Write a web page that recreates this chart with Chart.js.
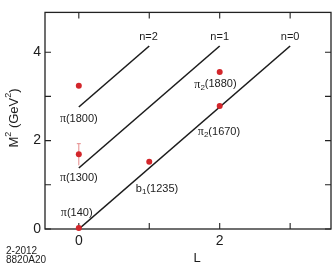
<!DOCTYPE html>
<html>
<head>
<meta charset="utf-8">
<script src="https://cdn.jsdelivr.net/npm/chart.js@4.4.1/dist/chart.umd.min.js"></script>
<style>
  body { margin: 0; background: #fff; }
  #box { width: 335px; height: 271px; }
</style>
</head>
<body>
<div id="box"><canvas id="regge" width="335" height="271"></canvas></div>
<script>
// mesons: orbital L and mass squared (GeV^2)
const mesonL = [0, 0, 0, 1, 2, 2];
const mesonM2 = [0.02, 1.69, 3.24, 1.52, 2.78, 3.55];

// error bar on pi(1300)
const errL = [0];
const errLow = [1.44];
const errHigh = [1.93];

// trajectories n=0,1,2 (start / end)
const trajNames = ['n=0', 'n=1', 'n=2'];
const trajStartL = [0, 0, 0];
const trajStartM2 = [0, 1.38, 2.76];
const trajEndL = [3, 2, 1];
const trajEndM2 = [4.14, 4.14, 4.14];

// point labels: [prefix, subscript, rest] and where they sit (data units)
const labelParts = [
  ['π', '', '(140)'],
  ['π', '', '(1300)'],
  ['π', '', '(1800)'],
  ['b', '1', '(1235)'],
  ['π', '2', '(1670)'],
  ['π', '2', '(1880)']
];
const labelL = [-0.03, 0, 0, 1.11, 1.99, 1.94];
const labelM2 = [0.37, 1.15, 2.50, 0.91, 2.20, 3.27];
const trajLabelL = [3.0, 2.0, 0.99];
const trajLabelM2 = [4.35, 4.35, 4.35];

// axes
const xTicks = [0, 1, 2, 3];
const xTickLabels = [0, 2];
const yTicks = [0, 1, 2, 3, 4];
const yTickLabels = [0, 2, 4];

const SANS = '"Liberation Sans", Arial, sans-serif';
const SERIF = '"Liberation Serif", "Times New Roman", serif';
const INK = '#1c1c1c';

function drawParts(ctx, parts, cx, cy) {
  let w = 0;
  parts.forEach(p => { ctx.font = p.font; p.w = ctx.measureText(p.t).width; w += p.w; });
  let x = cx - w / 2;
  ctx.textBaseline = 'middle';
  ctx.textAlign = 'left';
  parts.forEach(p => {
    ctx.font = p.font;
    ctx.fillText(p.t, x, cy + (p.dy || 0));
    x += p.w;
  });
}

function labelToParts(lp) {
  let parts = [];
  if (lp[0] == 'π') parts.push({ t: 'π', font: '12px ' + SERIF });
  else parts.push({ t: lp[0], font: '11px ' + SANS });
  if (lp[1] != '') parts.push({ t: lp[1], font: '8px ' + SANS, dy: 3 });
  parts.push({ t: lp[2], font: '11px ' + SANS });
  return parts;
}

const annotate = {
  id: 'annotate',
  beforeDatasetsDraw(chart) {
    const ctx = chart.ctx;
    const a = chart.chartArea;
    const xs = chart.scales.x, ys = chart.scales.y;
    ctx.save();
    // frame
    ctx.strokeStyle = '#222';
    ctx.lineWidth = 1.3;
    ctx.strokeRect(a.left, a.top, a.right - a.left, a.bottom - a.top);
    // inward ticks on all four sides
    ctx.lineWidth = 1.1;
    ctx.beginPath();
    xTicks.forEach(v => {
      const px = xs.getPixelForValue(v);
      ctx.moveTo(px, a.bottom); ctx.lineTo(px, a.bottom - 6);
      ctx.moveTo(px, a.top); ctx.lineTo(px, a.top + 6);
    });
    yTicks.forEach(v => {
      const py = ys.getPixelForValue(v);
      ctx.moveTo(a.left, py); ctx.lineTo(a.left + 6, py);
      ctx.moveTo(a.right, py); ctx.lineTo(a.right - 6, py);
    });
    ctx.stroke();
    // error bar
    ctx.strokeStyle = '#e58a8a';
    ctx.lineWidth = 1;
    ctx.beginPath();
    for (let i = 0; i < errL.length; i++) {
      const px = xs.getPixelForValue(errL[i]);
      const lo = ys.getPixelForValue(errLow[i]);
      const hi = ys.getPixelForValue(errHigh[i]);
      ctx.moveTo(px, lo); ctx.lineTo(px, hi);
      ctx.moveTo(px - 2, hi); ctx.lineTo(px + 2, hi);
    }
    ctx.stroke();
    ctx.restore();
  },
  afterDraw(chart) {
    const ctx = chart.ctx;
    const xs = chart.scales.x, ys = chart.scales.y;
    ctx.save();
    ctx.fillStyle = INK;
    for (let i = 0; i < labelParts.length; i++) {
      drawParts(ctx, labelToParts(labelParts[i]), xs.getPixelForValue(labelL[i]), ys.getPixelForValue(labelM2[i]));
    }
    for (let i = 0; i < trajNames.length; i++) {
      drawParts(ctx, [{ t: trajNames[i], font: '11px ' + SANS }], xs.getPixelForValue(trajLabelL[i]), ys.getPixelForValue(trajLabelM2[i]));
    }
    // axis titles
    drawParts(ctx, [{ t: 'L', font: '13px ' + SANS }], 197, 258);
    ctx.save();
    ctx.translate(14, 118);
    ctx.rotate(-Math.PI / 2);
    drawParts(ctx, [
      { t: 'M', font: '13px ' + SANS },
      { t: '2', font: '9px ' + SANS, dy: -5 },
      { t: ' (GeV', font: '13px ' + SANS },
      { t: '2', font: '9px ' + SANS, dy: -5 },
      { t: ')', font: '13px ' + SANS }
    ], 0, 0);
    ctx.restore();
    // figure id
    ctx.font = '10px ' + SANS;
    ctx.textAlign = 'left';
    ctx.textBaseline = 'middle';
    ctx.fillText('2-2012', 6, 251);
    ctx.fillText('8820A20', 6, 260);
    ctx.restore();
  }
};

let datasets = [];
datasets.push({
  label: 'mesons',
  data: mesonL.map((l, i) => ({ x: l, y: mesonM2[i] })),
  pointRadius: 3,
  pointBackgroundColor: '#d3262b',
  pointBorderWidth: 0,
  showLine: false,
  clip: false,
  order: 0
});
for (let i = 0; i < trajNames.length; i++) {
  datasets.push({
    label: trajNames[i],
    data: [{ x: trajStartL[i], y: trajStartM2[i] }, { x: trajEndL[i], y: trajEndM2[i] }],
    showLine: true,
    borderColor: INK,
    borderWidth: 1.6,
    pointRadius: 0,
    order: 1
  });
}

new Chart(document.getElementById('regge'), {
  type: 'scatter',
  data: { datasets: datasets },
  options: {
    responsive: false,
    animation: false,
    events: [],
    layout: { padding: { top: 1, right: 2, left: 0, bottom: 0 } },
    plugins: { legend: { display: false }, tooltip: { enabled: false } },
    scales: {
      x: {
        min: -0.48, max: 3.58,
        afterBuildTicks: s => { s.ticks = xTicks.map(v => ({ value: v })); },
        afterFit: s => { s.height = 42; },
        grid: { display: false, drawTicks: false },
        border: { display: false },
        ticks: {
          padding: 4,
          color: INK,
          font: { family: SANS, size: 14 },
          callback: v => xTickLabels.includes(v) ? String(v) : ''
        }
      },
      y: {
        min: 0, max: 4.9,
        afterBuildTicks: s => { s.ticks = yTicks.map(v => ({ value: v })); },
        afterFit: s => { s.width = 45; },
        grid: { display: false, drawTicks: false },
        border: { display: false },
        ticks: {
          padding: 4,
          color: INK,
          font: { family: SANS, size: 14 },
          callback: v => yTickLabels.includes(v) ? String(v) : ''
        }
      }
    }
  },
  plugins: [annotate]
});
</script>
</body>
</html>
